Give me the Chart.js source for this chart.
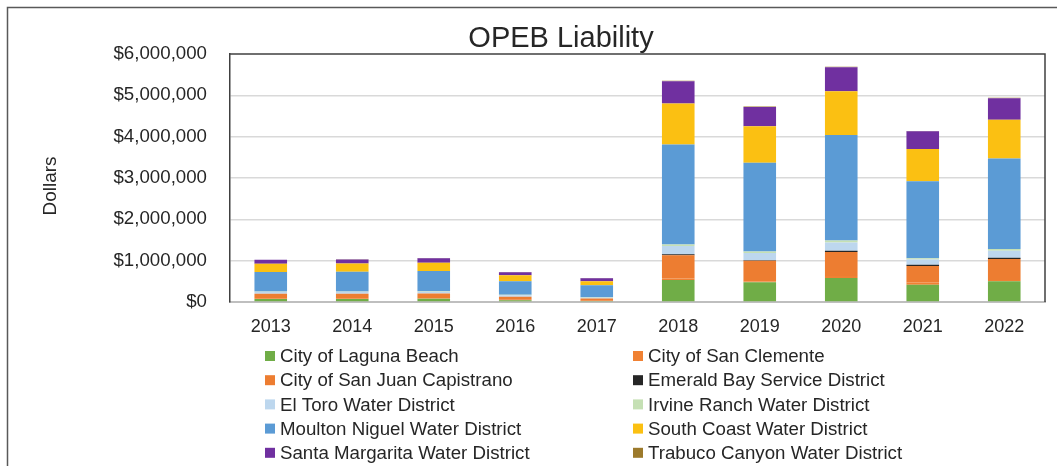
<!DOCTYPE html>
<html>
<head>
<meta charset="utf-8">
<script src="https://cdn.jsdelivr.net/npm/chart.js@4/dist/chart.umd.min.js"></script>
<style>
  html, body { margin: 0; padding: 0; background: #fff; }
  #wrap { position: relative; width: 1057px; height: 466px; overflow: hidden; }
</style>
</head>
<body>
<div id="wrap"><canvas id="opeb" width="1057" height="466"></canvas></div>
<script>
const years = ['2013', '2014', '2015', '2016', '2017', '2018', '2019', '2020', '2021', '2022'];

// values in dollars, stacked bottom -> top in this order
const lagunaBeach     = [75000, 75000, 80000, 45000, 25000, 530000, 480000, 580000, 420000, 500000];
const sanClemente     = [15000, 15000, 10000, 10000, 5000, 40000, 15000, 50000, 50000, 30000];
const sanJuan         = [110000, 110000, 115000, 70000, 55000, 560000, 500000, 580000, 400000, 510000];
const emeraldBay      = [0, 0, 0, 0, 0, 25000, 15000, 30000, 30000, 30000];
const elToro          = [45000, 45000, 45000, 40000, 20000, 200000, 175000, 200000, 130000, 170000];
const irvineRanch     = [10000, 10000, 10000, 10000, 8000, 35000, 35000, 50000, 30000, 40000];
const moultonNiguel   = [470000, 475000, 490000, 330000, 290000, 2420000, 2150000, 2550000, 1860000, 2190000];
const southCoast      = [200000, 200000, 200000, 145000, 100000, 990000, 880000, 1060000, 780000, 940000];
const santaMargarita  = [95000, 100000, 110000, 68000, 70000, 540000, 470000, 580000, 430000, 520000];
const trabucoCanyon   = [5000, 5000, 5000, 5000, 5000, 10000, 10000, 10000, 10000, 10000];

const yTicks = [0, 1000000, 2000000, 3000000, 4000000, 5000000, 6000000];

const font = '"Liberation Sans", Arial, sans-serif';
const textColor = '#262626';

const series = [
  { label: 'City of Laguna Beach', data: lagunaBeach, color: '#70AD47' },
  { label: 'City of San Clemente', data: sanClemente, color: '#F08133' },
  { label: 'City of San Juan Capistrano', data: sanJuan, color: '#ED7D31' },
  { label: 'Emerald Bay Service District', data: emeraldBay, color: '#262626' },
  { label: 'El Toro Water District', data: elToro, color: '#BDD7EE' },
  { label: 'Irvine Ranch Water District', data: irvineRanch, color: '#C5E0B4' },
  { label: 'Moulton Niguel Water District', data: moultonNiguel, color: '#5B9BD5' },
  { label: 'South Coast Water District', data: southCoast, color: '#FBC012' },
  { label: 'Santa Margarita Water District', data: santaMargarita, color: '#7030A0' },
  { label: 'Trabuco Canyon Water District', data: trabucoCanyon, color: '#9C7A2B' },
];

// frame, title, axis title and a two column legend
const decor = {
  id: 'decor',
  beforeDraw(chart) {
    const c = chart.ctx;
    c.save();
    c.strokeStyle = '#595959';
    c.lineWidth = 1.5;
    c.strokeRect(7.5, 7.5, 1200, 600);
    c.restore();
  },
  afterDraw(chart) {
    const c = chart.ctx;
    const a = chart.chartArea;
    c.save();
    // top + right edges of the plot box
    c.strokeStyle = '#404040';
    c.lineWidth = 1.5;
    c.beginPath();
    c.moveTo(a.left, a.top);
    c.lineTo(a.right, a.top);
    c.lineTo(a.right, a.bottom);
    c.stroke();

    c.fillStyle = textColor;
    c.font = '29px ' + font;
    c.textAlign = 'center';
    c.textBaseline = 'alphabetic';
    c.fillText('OPEB Liability', 561, 47);

    c.save();
    c.translate(51, 186);
    c.rotate(-Math.PI / 2);
    c.font = '19px ' + font;
    c.textBaseline = 'middle';
    c.fillText('Dollars', 0, 0);
    c.restore();

    c.font = '18.7px ' + font;
    c.textAlign = 'left';
    c.textBaseline = 'middle';
    chart.data.datasets.forEach((ds, i) => {
      const x = i % 2 === 0 ? 265 : 633;
      const y = 356 + Math.floor(i / 2) * 24.2;
      c.fillStyle = ds.backgroundColor;
      c.fillRect(x, y - 5, 10, 10);
      c.fillStyle = textColor;
      c.fillText(ds.label, x + 15, y + 1);
    });
    c.restore();
  }
};

new Chart(document.getElementById('opeb'), {
  type: 'bar',
  data: {
    labels: years,
    datasets: series.map(s => ({
      label: s.label,
      data: s.data,
      backgroundColor: s.color,
      borderWidth: 0,
      barPercentage: 0.4,
      categoryPercentage: 1
    }))
  },
  options: {
    responsive: false,
    animation: false,
    layout: { padding: { top: 54, right: 12, left: 0, bottom: 0 } },
    plugins: {
      legend: { display: false },
      title: { display: false },
      tooltip: { enabled: false }
    },
    scales: {
      x: {
        stacked: true,
        grid: { display: false, drawTicks: false },
        border: { color: '#BFBFBF', width: 2 },
        ticks: { color: textColor, font: { family: font, size: 18 }, padding: 14 },
        afterFit(scale) { scale.height = 164; }
      },
      y: {
        stacked: true,
        min: 0,
        max: 6000000,
        afterBuildTicks(scale) { scale.ticks = yTicks.map(v => ({ value: v })); },
        grid: {
          color: (ctx) => (ctx.tick && ctx.tick.value === 6000000) ? 'rgba(0,0,0,0)' : '#D9D9D9',
          lineWidth: 1.5,
          drawTicks: false
        },
        border: { color: '#404040', width: 1.5 },
        ticks: {
          color: textColor,
          font: { family: font, size: 18.7 },
          padding: 23,
          callback: (v) => '$' + Number(v).toLocaleString('en-US')
        },
        afterFit(scale) { scale.width = 230; }
      }
    }
  },
  plugins: [decor]
});
</script>
</body>
</html>
